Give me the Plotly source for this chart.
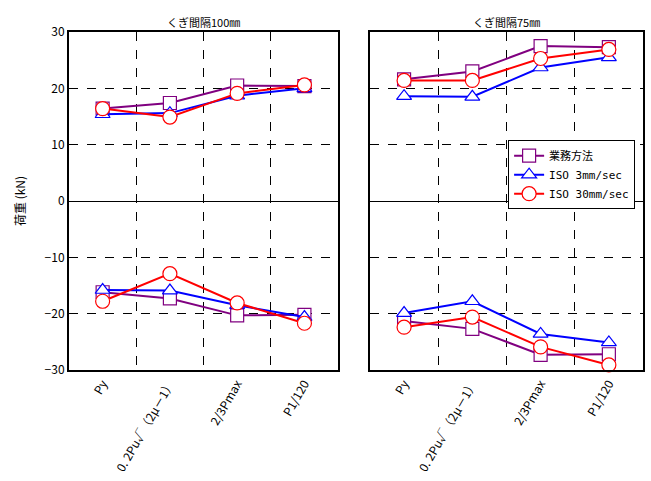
import plotly.graph_objects as go

# Load-point categories
categories = ["Py", "0. 2Pu√（2μ－1）", "2/3Pmax", "P1/120"]
series_names = ["業務方法", "ISO 3mm/sec", "ISO 30mm/sec"]
panel_titles = ["くぎ間隔100㎜", "くぎ間隔75㎜"]
y_ticks = [30, 20, 10, 0, -10, -20, -30]

# Nail spacing 100 mm: positive / negative loads (kN)
gyomu_100_pos = [16.4, 17.4, 20.5, 20.4]
iso3_100_pos = [15.4, 15.6, 18.7, 20.0]
iso30_100_pos = [16.4, 14.9, 19.1, 20.6]
gyomu_100_neg = [-16.2, -17.3, -20.3, -20.2]
iso3_100_neg = [-15.8, -15.9, -18.5, -20.6]
iso30_100_neg = [-17.8, -12.9, -18.1, -21.7]

# Nail spacing 75 mm: positive / negative loads (kN)
gyomu_75_pos = [21.6, 23.0, 27.5, 27.3]
iso3_75_pos = [18.6, 18.5, 23.7, 25.5]
iso30_75_pos = [21.4, 21.4, 25.3, 26.9]
gyomu_75_neg = [-21.3, -22.7, -27.3, -27.2]
iso3_75_neg = [-19.9, -17.8, -23.6, -25.1]
iso30_75_neg = [-22.4, -20.6, -25.9, -29.1]

colors = ["#800080", "#0000FF", "#FF0000"]
symbols = ["square", "triangle-up", "circle"]
sizes = [13, 13, 14]

panels = [
    ("x", "y", [gyomu_100_pos, iso3_100_pos, iso30_100_pos],
     [gyomu_100_neg, iso3_100_neg, iso30_100_neg]),
    ("x2", "y2", [gyomu_75_pos, iso3_75_pos, iso30_75_pos],
     [gyomu_75_neg, iso3_75_neg, iso30_75_neg]),
]

xpos = list(range(len(categories)))
fig = go.Figure()
for p_idx, (xa, ya, pos_sets, neg_sets) in enumerate(panels):
    for s_idx in range(3):
        for part, vals in enumerate([pos_sets[s_idx], neg_sets[s_idx]]):
            fig.add_trace(go.Scatter(
                x=xpos, y=vals, xaxis=xa, yaxis=ya,
                mode="lines+markers",
                name=series_names[s_idx],
                legendgroup=series_names[s_idx],
                showlegend=(p_idx == 0 and part == 0),
                line=dict(color=colors[s_idx], width=2),
                marker=dict(symbol=symbols[s_idx], size=sizes[s_idx],
                            color="white",
                            line=dict(color=colors[s_idx], width=1.2)),
                cliponaxis=False,
            ))

font_jp = "Noto Sans CJK JP"

xaxis_common = dict(
    range=[-0.5, 3.5], tickvals=xpos, ticktext=categories,
    tickangle=-60, showgrid=False, zeroline=False,
    showline=True, linecolor="black", linewidth=2, mirror=True,
    ticks="", tickfont=dict(family=font_jp, size=12, color="black"),
    minor=dict(tickvals=[0.5, 1.5, 2.5], showgrid=True, gridcolor="black",
               griddash="dash", gridwidth=1, ticks=""),
)
yaxis_common = dict(
    range=[-30, 30], tickvals=y_ticks, showgrid=True, gridcolor="black",
    griddash="dash", gridwidth=1, zeroline=True, zerolinecolor="black",
    zerolinewidth=1, showline=True, linecolor="black", linewidth=2,
    mirror=True, ticks="", tickfont=dict(family=font_jp, size=12, color="black"),
)

fig.update_layout(
    width=651, height=481,
    margin=dict(l=69, r=6, t=32, b=111),
    paper_bgcolor="white", plot_bgcolor="white",
    xaxis=dict(xaxis_common, domain=[0, 0.46875], anchor="y"),
    xaxis2=dict(xaxis_common, domain=[0.5243, 1.0], anchor="y2"),
    yaxis=dict(yaxis_common, anchor="x",
               title=dict(text="荷重 (kN)", font=dict(family=font_jp, size=12, color="black"),
                          standoff=16)),
    yaxis2=dict(yaxis_common, anchor="x2", showticklabels=False),
    legend=dict(x=0.765, y=0.68, xanchor="left", yanchor="top",
                bgcolor="white", bordercolor="black", borderwidth=1,
                font=dict(family="DejaVu Sans Mono, Noto Sans CJK JP", size=11, color="black"),
                tracegroupgap=0),
    showlegend=True,
)

for i, title in enumerate(panel_titles):
    fig.add_annotation(
        text=title, xref="x domain" if i == 0 else "x2 domain", yref="paper",
        x=0.5, y=1.0, yshift=20, showarrow=False,
        font=dict(family=font_jp, size=11, color="black"),
    )

fig.write_html("out.html")
